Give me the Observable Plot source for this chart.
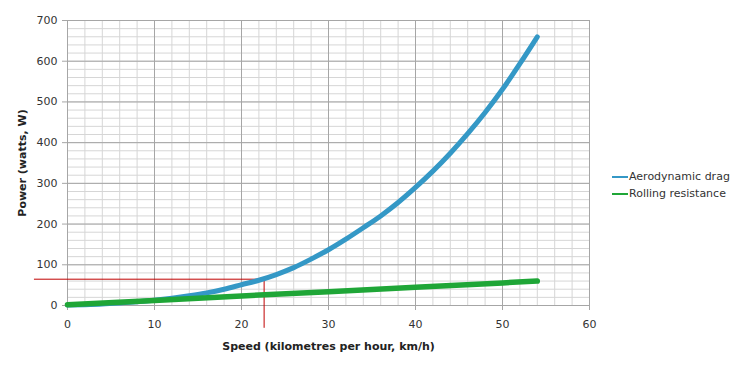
<!DOCTYPE html>
<html>
<head>
<meta charset="utf-8">
<script src="https://cdn.jsdelivr.net/npm/d3@7"></script>
<script src="https://cdn.jsdelivr.net/npm/@observablehq/plot@0.6"></script>
<style>
  body { margin: 0; background: #fff; }
  #wrap { position: relative; width: 754px; height: 377px; font-family: "DejaVu Sans", Verdana, sans-serif; }
  .legend { position: absolute; left: 612px; top: 168px; font-size: 11px; color: #333; }
  .legend .row { display: flex; align-items: center; height: 17px; }
  .legend .sw { width: 16px; height: 2px; margin-right: 1px; }
</style>
</head>
<body>
<div id="wrap"></div>
<script>
// Data
const speeds = [0,2,4,6,8,10,12,14,16,18,20,22,24,26,28,30,32,34,36,38,40,42,44,46,48,50,52,54];
const dragPower = [1,2,3.5,6,9,13,18,24,31,40,51,62,76,93,114,137,163,191,220,253,290,330,374,422,474,531,594,660];
const rollingSpeeds = [0,10,20,30,40,50,54];
const rollingPower = [2,12.5,23.5,34,45,55.5,60];
// Red guide lines: speed/power of the marked point, and where the lines start outside the axes
const markerSpeed = 22.6;
const markerPower = 64.6;
const markerSpeedStart = -3.8;
const markerPowerStart = -56;
const xTicks = [0,10,20,30,40,50,60];
const yTicks = [0,100,200,300,400,500,600,700];
const seriesNames = ["Aerodynamic drag", "Rolling resistance"];
const seriesColors = ["#3498c6", "#1fa637"];
const xLabel = "Speed (kilometres per hour, km/h)";
const yLabel = "Power (watts, W)";

const drag = speeds.map((s, i) => ({speed: s, power: dragPower[i]}));
const rolling = rollingSpeeds.map((s, i) => ({speed: s, power: rollingPower[i]}));
const minorX = d3.range(0, 61, 2);
const minorY = d3.range(0, 701, 20);

const chart = Plot.plot({
  width: 754,
  height: 377,
  marginLeft: 67,
  marginRight: 165,
  marginTop: 20,
  marginBottom: 72,
  style: {fontFamily: "'DejaVu Sans', Verdana, sans-serif", fontSize: "11px", color: "#333", background: "#fff"},
  x: {domain: [0, 60]},
  y: {domain: [0, 700]},
  marks: [
    Plot.ruleX(minorX, {stroke: "#d6d6d6", strokeWidth: 1}),
    Plot.ruleY(minorY, {stroke: "#d6d6d6", strokeWidth: 1}),
    Plot.ruleX(xTicks, {stroke: "#a6a6a6", strokeWidth: 1}),
    Plot.ruleY(yTicks, {stroke: "#a6a6a6", strokeWidth: 1}),
    Plot.axisX({ticks: xTicks, tickSize: 5, tickPadding: 10, stroke: "#a6a6a6", fill: "#333", label: null}),
    Plot.axisY({ticks: yTicks, tickSize: 5, tickPadding: 5, stroke: "#a6a6a6", fill: "#333", label: null}),
    Plot.ruleY([markerPower], {x1: markerSpeedStart, x2: markerSpeed, stroke: "#c00000", strokeWidth: 1, clip: false}),
    Plot.ruleX([markerSpeed], {y1: markerPowerStart, y2: markerPower, stroke: "#c00000", strokeWidth: 1, clip: false}),
    Plot.line(drag, {x: "speed", y: "power", stroke: seriesColors[0], strokeWidth: 5, strokeLinecap: "round", curve: "monotone-x"}),
    Plot.line(rolling, {x: "speed", y: "power", stroke: seriesColors[1], strokeWidth: 5.5, strokeLinecap: "round"}),
    Plot.text([xLabel], {frameAnchor: "bottom", textAnchor: "middle", lineAnchor: "middle", dy: 41, fontWeight: "bold", fill: "#222"}),
    Plot.text([yLabel], {frameAnchor: "left", textAnchor: "middle", lineAnchor: "middle", dx: -45.5, rotate: -90, fontWeight: "bold", fill: "#222"})
  ]
});

const wrap = document.getElementById("wrap");
wrap.appendChild(chart);
const legend = document.createElement("div");
legend.className = "legend";
seriesNames.forEach((name, i) => {
  const row = document.createElement("div");
  row.className = "row";
  const sw = document.createElement("span");
  sw.className = "sw";
  sw.style.background = seriesColors[i];
  const lab = document.createElement("span");
  lab.textContent = name;
  row.appendChild(sw);
  row.appendChild(lab);
  legend.appendChild(row);
});
wrap.appendChild(legend);
</script>
</body>
</html>
